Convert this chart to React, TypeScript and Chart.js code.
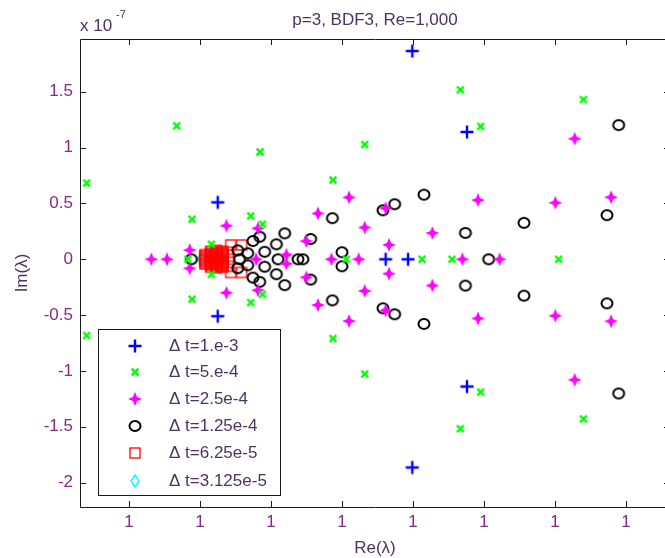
import React, { useEffect, useRef } from "react";
import { Chart, registerables } from "chart.js";

Chart.register(...registerables);

const FONT = '"Liberation Sans", Arial, sans-serif';
const TICK_COLOR = "#862a8a";
const TEXT_COLOR = "#4e3360";

// x is in axis-tick units (every tick reads "1"), y is in units of 1e-7
const xTickValues = [1, 2, 3, 4, 5, 6, 7, 8];
const xTickLabels = ["1", "1", "1", "1", "1", "1", "1", "1"];
const yTickValues = [-2, -1.5, -1, -0.5, 0, 0.5, 1, 1.5];
const yTickLabels = ["-2", "-1.5", "-1", "-0.5", "0", "0.5", "1", "1.5"];

const legendLabels = [
  "\u0394 t=1.e-3",
  "\u0394 t=5.e-4",
  "\u0394 t=2.5e-4",
  "\u0394 t=1.25e-4",
  "\u0394 t=6.25e-5",
  "\u0394 t=3.125e-5",
];

const dt1e3: number[][] = [
  [4.99, 1.865], [4.99, -1.865], [5.76, 1.14], [5.76, -1.14],
  [4.615, 0], [4.93, 0], [2.25, 0.51], [2.25, -0.51],
];

const dt5e4: number[][] = [
  [0.404, 0.683], [0.404, -0.683], [1.672, 1.195], [1.672, -1.195],
  [2.845, 0.961], [2.845, -0.961], [1.887, 0.358], [1.887, -0.358],
  [2.714, 0.388], [2.714, -0.388], [2.879, 0.314], [2.879, -0.314],
  [1.83, 0], [2.16, 0.135], [2.16, -0.135],
  [5.667, 1.518], [5.667, -1.518], [7.4, 1.43], [7.4, -1.43],
  [5.953, 1.19], [5.953, -1.19], [4.32, 1.028], [4.32, -1.028],
  [3.873, 0.71], [3.873, -0.71], [5.127, 0], [5.549, 0], [7.052, 0], [4.06, 0],
];

const dt25e4: number[][] = [
  [7.277, 1.08], [7.277, -1.08], [7.79, 0.555], [7.79, -0.555],
  [7.005, 0.506], [7.005, -0.506], [5.916, 0.53], [5.916, -0.53],
  [4.099, 0.554], [4.099, -0.554], [3.662, 0.41], [3.662, -0.41],
  [4.32, 0.284], [4.32, -0.284], [4.615, 0.458], [4.615, -0.458],
  [5.273, 0.235], [5.273, -0.235], [4.662, 0.129], [4.662, -0.129],
  [3.498, 0.162], [3.498, -0.162], [3.851, 0], [4.235, 0], [5.696, 0], [6.221, 0],
  [2.372, 0.3], [2.372, -0.3], [2.817, 0.277], [2.817, -0.277],
  [1.315, 0], [1.535, 0], [1.855, 0.082], [1.855, -0.082],
  [3.217, 0.04], [3.217, -0.04], [2.79, 0],
];

const dt125e4: number[][] = [
  [7.897, 1.202], [7.897, -1.202], [7.732, 0.395], [7.732, -0.395],
  [6.563, 0.326], [6.563, -0.326], [5.738, 0.236], [5.738, -0.236],
  [5.155, 0.579], [5.155, -0.579], [4.742, 0.493], [4.742, -0.493],
  [4.577, 0.439], [4.577, -0.439], [3.865, 0.368], [3.865, -0.368],
  [3.559, 0.182], [3.559, -0.182], [4.0, 0.063], [4.0, -0.063],
  [3.45, 0], [6.066, 0],
  [3.193, 0.232], [3.193, -0.232], [2.841, 0.202], [2.841, -0.202],
  [2.746, 0.164], [2.746, -0.164], [3.076, 0.134], [3.076, -0.134],
  [2.911, 0.067], [2.911, -0.067], [3.38, 0], [3.099, 0],
  [1.879, 0], [2.531, 0.08], [2.531, -0.08], [2.559, 0],
  [2.672, 0.054], [2.672, -0.054],
];

// outer, separately visible squares
const dt625e5Outer: number[][] = [
  [2.432, 0.128], [2.587, 0.128], [2.432, -0.118], [2.587, -0.118],
  [2.404, 0.063], [2.404, -0.063], [2.404, 0],
];
// the dense, overlapping core (reads as a solid red blob)
const dt625e5Core: number[][] = [
  [2.069, 0.042], [2.069, 0.03], [2.069, 0.018], [2.069, 0.006],
  [2.069, -0.006], [2.069, -0.018], [2.069, -0.03], [2.069, -0.042],
  [2.151, 0.072], [2.151, 0.06], [2.151, 0.048], [2.151, 0.036], [2.151, 0.024], [2.151, 0.012], [2.151, 0],
  [2.151, -0.012], [2.151, -0.024], [2.151, -0.036], [2.151, -0.048], [2.151, -0.06], [2.151, -0.072],
  [2.235, 0.08], [2.235, 0.068], [2.235, 0.056], [2.235, 0.044], [2.235, 0.032], [2.235, 0.02], [2.235, 0.008],
  [2.235, -0.004], [2.235, -0.016], [2.235, -0.028], [2.235, -0.04], [2.235, -0.052], [2.235, -0.064], [2.235, -0.076],
  [2.32, 0.072], [2.32, 0.06], [2.32, 0.048], [2.32, 0.036], [2.32, 0.024], [2.32, 0.012], [2.32, 0],
  [2.32, -0.012], [2.32, -0.024], [2.32, -0.036], [2.32, -0.048], [2.32, -0.06], [2.32, -0.072],
];

const dt3125e5: number[][] = [[2.02, 0], [2.025, 0.004]];

function makeMarker(kind: string): HTMLCanvasElement {
  const c = document.createElement("canvas");
  const s = 16;
  c.width = s;
  c.height = s;
  const g = c.getContext("2d")!;
  g.translate(s / 2, s / 2);
  g.lineCap = "butt";
  if (kind === "plus") {
    g.strokeStyle = "#0000ff";
    g.lineWidth = 2.4;
    g.beginPath();
    g.moveTo(-6.5, 0); g.lineTo(6.5, 0);
    g.moveTo(0, -6.5); g.lineTo(0, 6.5);
    g.stroke();
  } else if (kind === "x") {
    g.strokeStyle = "#00ff00";
    g.lineWidth = 2.3;
    g.beginPath();
    g.moveTo(-3.4, -3.4); g.lineTo(3.4, 3.4);
    g.moveTo(-3.4, 3.4); g.lineTo(3.4, -3.4);
    g.stroke();
  } else if (kind === "star") {
    g.fillStyle = "#ff00ff";
    g.beginPath();
    for (let i = 0; i < 8; i++) {
      const a = (i * Math.PI) / 4 - Math.PI / 2;
      const r = i % 2 === 0 ? 7 : 2.9;
      const px = r * Math.cos(a);
      const py = r * Math.sin(a);
      if (i === 0) g.moveTo(px, py); else g.lineTo(px, py);
    }
    g.closePath();
    g.fill();
  } else if (kind === "circle") {
    g.strokeStyle = "#000000";
    g.lineWidth = 2;
    g.beginPath();
    g.ellipse(0, 0, 5.5, 5, 0, 0, Math.PI * 2);
    g.stroke();
  } else if (kind === "square") {
    g.strokeStyle = "#ff0000";
    g.lineWidth = 1.3;
    g.strokeRect(-5, -5, 10, 10);
  } else if (kind === "diamond") {
    g.strokeStyle = "#00ffff";
    g.lineWidth = 1.4;
    g.beginPath();
    g.moveTo(0, -6); g.lineTo(4, 0); g.lineTo(0, 6); g.lineTo(-4, 0);
    g.closePath();
    g.stroke();
  }
  return c;
}

const markerKinds = ["plus", "x", "star", "circle", "square", "diamond"];
const seriesData = [dt1e3, dt5e4, dt25e4, dt125e4, [...dt625e5Outer, ...dt625e5Core], dt3125e5];

const AREA = { left: 80, top: 39, right: 670, bottom: 507 };
const FS = 17;

export default function App() {
  const ref = useRef<HTMLCanvasElement | null>(null);

  useEffect(() => {
    if (!ref.current) return;
    const markers = markerKinds.map(makeMarker);

    const decor = {
      id: "decor",
      afterDraw(chart: any) {
        const ctx = chart.ctx as CanvasRenderingContext2D;
        const ca = chart.chartArea;
        const xs = chart.scales.x;
        const ys = chart.scales.y;
        ctx.save();
        ctx.strokeStyle = "#1a1a1a";
        ctx.lineWidth = 1;
        ctx.beginPath();
        ctx.moveTo(ca.left + 0.5, ca.top + 0.5);
        ctx.lineTo(ca.right + 0.5, ca.top + 0.5);
        ctx.lineTo(ca.right + 0.5, ca.bottom + 0.5);
        ctx.lineTo(ca.left + 0.5, ca.bottom + 0.5);
        ctx.closePath();
        ctx.stroke();
        ctx.beginPath();
        xTickValues.forEach((v) => {
          const px = Math.round(xs.getPixelForValue(v)) + 0.5;
          ctx.moveTo(px, ca.bottom);
          ctx.lineTo(px, ca.bottom - 6);
          ctx.moveTo(px, ca.top);
          ctx.lineTo(px, ca.top + 6);
        });
        yTickValues.forEach((v) => {
          const py = Math.round(ys.getPixelForValue(v)) + 0.5;
          ctx.moveTo(ca.left, py);
          ctx.lineTo(ca.left + 6, py);
          ctx.moveTo(ca.right, py);
          ctx.lineTo(ca.right - 6, py);
        });
        ctx.stroke();

        ctx.fillStyle = TEXT_COLOR;
        ctx.font = `${FS}px ${FONT}`;
        ctx.textAlign = "center";
        ctx.textBaseline = "alphabetic";
        ctx.fillText("p=3, BDF3, Re=1,000", 375, 25);
        ctx.textBaseline = "middle";
        ctx.fillText("Re(\u03bb)", 375, 548);
        ctx.save();
        ctx.translate(22, 273);
        ctx.rotate(-Math.PI / 2);
        ctx.fillText("Im(\u03bb)", 0, 0);
        ctx.restore();
        ctx.textAlign = "left";
        ctx.textBaseline = "alphabetic";
        ctx.fillText("x 10", 80, 31);
        ctx.font = `11px ${FONT}`;
        ctx.fillText("-7", 116, 18);

        const lx = 98, ly = 329, lw = 182, lh = 166;
        ctx.fillStyle = "#ffffff";
        ctx.fillRect(lx, ly, lw, lh);
        ctx.strokeStyle = "#1a1a1a";
        ctx.lineWidth = 1;
        ctx.strokeRect(lx + 0.5, ly + 0.5, lw, lh);
        const rows = [346, 372, 399, 426, 453, 481];
        ctx.font = `${FS}px ${FONT}`;
        ctx.textBaseline = "middle";
        ctx.fillStyle = TEXT_COLOR;
        rows.forEach((ry, i) => {
          const m = markers[i];
          ctx.drawImage(m, 135 - m.width / 2, ry - m.height / 2);
          ctx.fillText(legendLabels[i], 169, ry);
        });
        ctx.restore();
      },
    };

    const chart = new Chart(ref.current, {
      type: "scatter",
      data: {
        datasets: seriesData.map((d, i) => ({
          label: legendLabels[i],
          data: d.map(([x, y]) => ({ x, y })),
          pointStyle: markers[i] as any,
          pointRadius: 6,
          showLine: false,
        })),
      },
      options: {
        animation: false,
        responsive: false,
        events: [],
        layout: { padding: { left: 0, top: AREA.top, right: 700 - AREA.right, bottom: 0 } },
        plugins: { legend: { display: false }, title: { display: false }, tooltip: { enabled: false } },
        scales: {
          x: {
            type: "linear",
            min: 0.31,
            max: 8.62,
            grid: { display: false, drawTicks: false },
            border: { display: false },
            afterBuildTicks: (s: any) => {
              s.ticks = xTickValues.map((v) => ({ value: v }));
            },
            afterFit: (s: any) => {
              s.height = 558 - AREA.bottom;
            },
            ticks: {
              autoSkip: false,
              maxRotation: 0,
              padding: 5,
              color: TICK_COLOR,
              font: { family: FONT, size: FS },
              callback: (_v: any, i: number) => xTickLabels[i],
            },
          },
          y: {
            type: "linear",
            min: -2.219,
            max: 1.973,
            grid: { display: false, drawTicks: false },
            border: { display: false },
            afterBuildTicks: (s: any) => {
              s.ticks = yTickValues.map((v) => ({ value: v }));
            },
            afterFit: (s: any) => {
              s.width = AREA.left;
            },
            ticks: {
              autoSkip: false,
              padding: 7,
              color: TICK_COLOR,
              font: { family: FONT, size: FS },
              callback: (_v: any, i: number) => yTickLabels[i],
            },
          },
        },
      },
      plugins: [decor],
    });
    return () => chart.destroy();
  }, []);

  return (
    <div style={{ position: "fixed", left: 0, top: 0, width: 665, height: 558, overflow: "hidden", background: "#fff" }}>
      <canvas ref={ref} width={700} height={558} style={{ display: "block", width: 700, height: 558 }} />
    </div>
  );
}
